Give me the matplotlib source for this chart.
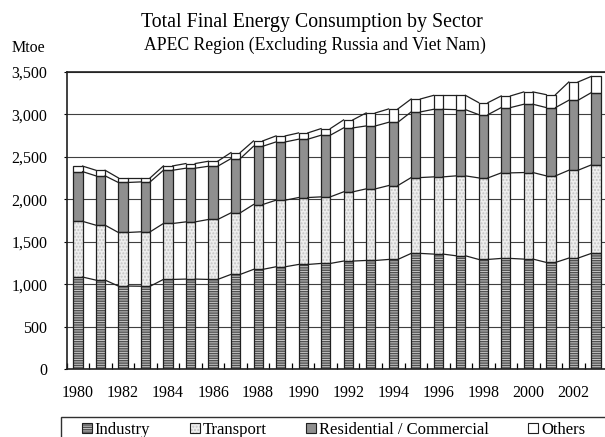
import matplotlib.pyplot as plt
import numpy as np

plt.rcParams['font.family'] = ['Liberation Serif', 'DejaVu Serif']
plt.rcParams['hatch.linewidth'] = 1.0

years = list(range(1980, 2004))
industry = [1085, 1049, 979, 977, 1057, 1061, 1057, 1116, 1175, 1206, 1233, 1245,
            1273, 1280, 1292, 1363, 1355, 1335, 1292, 1304, 1296, 1257, 1308, 1363]
transport = [655, 646, 630, 640, 658, 673, 705, 724, 763, 783, 787, 783,
             814, 842, 869, 892, 908, 940, 959, 1006, 1018, 1018, 1033, 1041]
residential = [585, 580, 588, 587, 626, 631, 626, 638, 685, 685, 686, 725,
               752, 740, 744, 772, 795, 779, 744, 768, 803, 803, 823, 850]
others = [65, 66, 54, 47, 51, 55, 59, 71, 63, 71, 74, 78,
          94, 153, 157, 152, 164, 168, 141, 137, 145, 152, 215, 191]

series = [
    ('Industry', industry, '#c8c8c8', '-------', '#505050'),
    ('Transport', transport, '#eeeeee', '.....', '#c4c4c4'),
    ('Residential / Commercial', residential, '#8f8f8f', None, None),
    ('Others', others, 'white', None, None),
]

W, H = 605, 437
fig = plt.figure(figsize=(W / 100, H / 100), dpi=100)
ax = fig.add_axes([66.7 / W, 1 - 369.3 / H, 540.5 / W, (369.3 - 71.7) / H])

x = np.arange(len(years))
bw = 0.41
bottom = np.zeros(len(years))
handles = []
for name, vals, face, hatch, hcol in series:
    vals = np.array(vals, dtype=float)
    if hatch:
        ax.bar(x, vals, bw, bottom=bottom, color=face, edgecolor=hcol,
               hatch=hatch, linewidth=0, zorder=2)
    else:
        ax.bar(x, vals, bw, bottom=bottom, color=face, linewidth=0, zorder=2)
    ax.bar(x, vals, bw, bottom=bottom, fill=False, edgecolor='#202020',
           linewidth=0.9, zorder=3)
    bottom = bottom + vals
    # series lines between bar tops
    for i in range(len(years) - 1):
        ax.plot([x[i] + bw / 2, x[i + 1] - bw / 2], [bottom[i], bottom[i + 1]],
                color='#202020', lw=0.9, zorder=3)
    outline = plt.Rectangle((0, 0), 1, 1, fill=False, edgecolor='#202020', lw=0.8)
    if hatch:
        h = plt.Rectangle((0, 0), 1, 1, facecolor=face, edgecolor=hcol, hatch=hatch, lw=0)
    else:
        h = plt.Rectangle((0, 0), 1, 1, facecolor=face, lw=0)
    handles.append((h, outline))

ax.set_xlim(-0.5, len(years) - 0.5)
ax.set_ylim(0, 3500)
ax.set_yticks(range(0, 3501, 500))
ax.set_yticklabels([f'{v:,}' for v in range(0, 3501, 500)], fontsize=11.5)
ax.yaxis.grid(True, color='#404040', lw=0.8)
ax.set_axisbelow(True)

ax.set_xticks(x[::2])
ax.set_xticklabels([str(y) for y in years[::2]], fontsize=11.5)
ax.set_xticks(np.arange(-0.5, len(years), 1), minor=True)
ax.tick_params(axis='x', which='major', length=0, pad=11.5)
ax.tick_params(axis='x', which='minor', direction='in', length=4.3, width=0.9)
ax.tick_params(axis='y', length=2, width=0.8, pad=12)

for s in ['left', 'bottom', 'top']:
    ax.spines[s].set_linewidth(1.2)
    ax.spines[s].set_color('#202020')
ax.spines['right'].set_visible(False)

fig.text(311.7 / W, 1 - 22.3 / H, 'Total Final Energy Consumption by Sector',
         ha='center', va='center', fontsize=14.3)
fig.text(315 / W, 1 - 45.5 / H, 'APEC Region (Excluding Russia and Viet Nam)',
         ha='center', va='center', fontsize=12.7)
fig.text(11.7 / W, 1 - 48.3 / H, 'Mtoe', ha='left', va='center', fontsize=11.5)

# legend box
fig.patches.append(plt.Rectangle((60.7 / W, -0.1), 0.95, 0.1 + (1 - 416.7 / H),
                                 transform=fig.transFigure, fill=False,
                                 edgecolor='#303030', lw=1.0))
fig.legend(handles, [s[0] for s in series], ncol=4, frameon=False,
           loc='center left', bbox_to_anchor=(81.5 / W, 1 - 430 / H),
           borderaxespad=0, borderpad=0, fontsize=12, handlelength=0.6,
           handleheight=0.6, handletextpad=0.2, columnspacing=2.35)

fig.savefig('out.png', dpi=100)
